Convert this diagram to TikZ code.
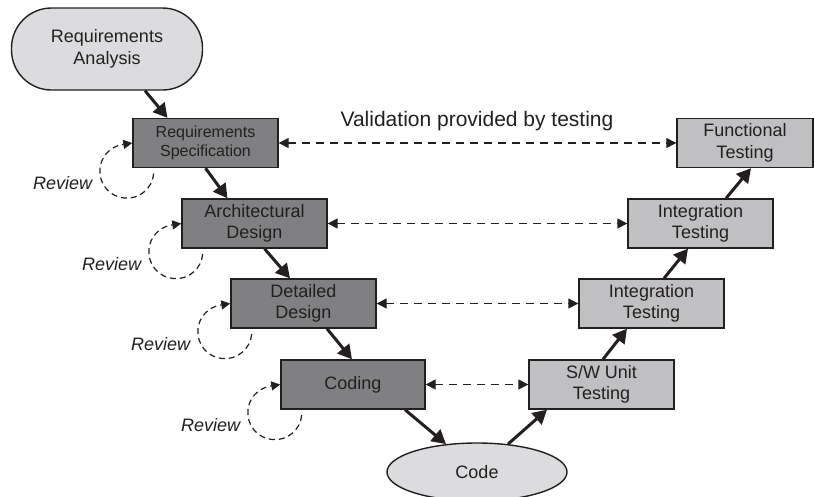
\documentclass[tikz,border=0pt]{standalone}
\usepackage{fontspec}
\setmainfont{Liberation Sans}
\usetikzlibrary{arrows.meta,shapes.geometric}
\definecolor{darkbox}{RGB}{128,128,130}
\definecolor{lightbox}{RGB}{192,192,194}
\definecolor{palebox}{RGB}{220,220,222}
\definecolor{ink}{RGB}{35,31,32}
\begin{document}
\begin{tikzpicture}[x=1pt,y=-1pt,
  box/.style={draw=ink, line width=1.4pt, minimum width=145pt, minimum height=49pt, inner sep=0pt, align=center, text=ink, font=\fontsize{18}{21.5}\selectfont},
  devbox/.style={box, fill=darkbox},
  testbox/.style={box, fill=lightbox},
  terminal/.style={draw=ink, line width=1.4pt, fill=palebox, inner sep=0pt, align=center, text=ink, font=\fontsize{18}{22}\selectfont},
  flow/.style={draw=ink, line width=3pt, -{Triangle[length=14pt,width=15pt]}},
  trace/.style={draw=ink, line width=1.4pt, dash pattern=on 8pt off 6pt, {Triangle[length=10pt,width=10pt]}-{Triangle[length=10pt,width=10pt]}},
  revloop/.style={draw=ink, line width=1.2pt, dash pattern=on 6pt off 4pt, -{Triangle[length=9pt,width=9pt]}},
  revlabel/.style={anchor=east, text=ink, font=\fontsize{18}{21}\selectfont\itshape, inner sep=0pt},
]
\useasboundingbox (0,0) rectangle (814,496);

\node[terminal, rounded corners=40pt, minimum width=191pt, minimum height=82pt] (RA) at (107,49) {Requirements\\Analysis};
\node[devbox, font=\fontsize{16}{19}\selectfont] (RS) at (205.5,143) {Requirements\\Specification};
\node[devbox] (AD) at (254.5,223.5) {Architectural\\Design};
\node[devbox] (DD) at (303.5,303.5) {Detailed\\Design};
\node[devbox, minimum width=144pt] (CO) at (353,384.5) {Coding};
\node[terminal, ellipse, minimum width=180pt, minimum height=58pt] (CE) at (477,472) {Code};
\node[testbox] (SW) at (601.5,384.5) {S/W Unit\\Testing};
\node[testbox] (IL) at (651.5,303.5) {Integration\\Testing};
\node[testbox] (IU) at (700.5,223.5) {Integration\\Testing};
\node[testbox, minimum width=136pt] (FT) at (745,143) {Functional\\Testing};

\node[text=ink, font=\fontsize{21}{25}\selectfont] (VL) at (477,121) {Validation provided by testing};

\draw[flow] ([xshift=38pt]RA.south) -- ([xshift=-38pt]RS.north);
\draw[flow] (RS.south) -- ([xshift=-27pt]AD.north);
\draw[flow] ([xshift=10pt]AD.south) -- ([xshift=-13.5pt]DD.north);
\draw[flow] ([xshift=23.5pt]DD.south) -- ([xshift=-1pt]CO.north);
\draw[flow] ([xshift=52pt]CO.south) -- (CE.138);
\draw[flow] (CE.42) -- ([xshift=-54.5pt]SW.south);
\draw[flow] ([xshift=1.5pt]SW.north) -- ([xshift=-24.5pt]IL.south);
\draw[flow] ([xshift=12.5pt]IL.north) -- ([xshift=-12.5pt]IU.south);
\draw[flow] ([xshift=25.5pt]IU.north) -- ([xshift=6pt]FT.south);

\draw[trace] (RS.east) -- (FT.west);
\draw[trace] (AD.east) -- (IU.west);
\draw[trace] (DD.east) -- (IL.west);
\draw[trace] (CO.east) -- (SW.west);

\foreach \b/\n in {RS/R1, AD/R2, DD/R3, CO/R4}{
  \draw[revloop] ([shift={(-5.5,3)}]\b.south west) ++(5:27) arc[start angle=5, end angle=260, radius=27] -- (\b.west);
  \node[revlabel] (\n) at ([shift={(-40,15)}]\b.south west) {Review};
}
\end{tikzpicture}
\end{document}
